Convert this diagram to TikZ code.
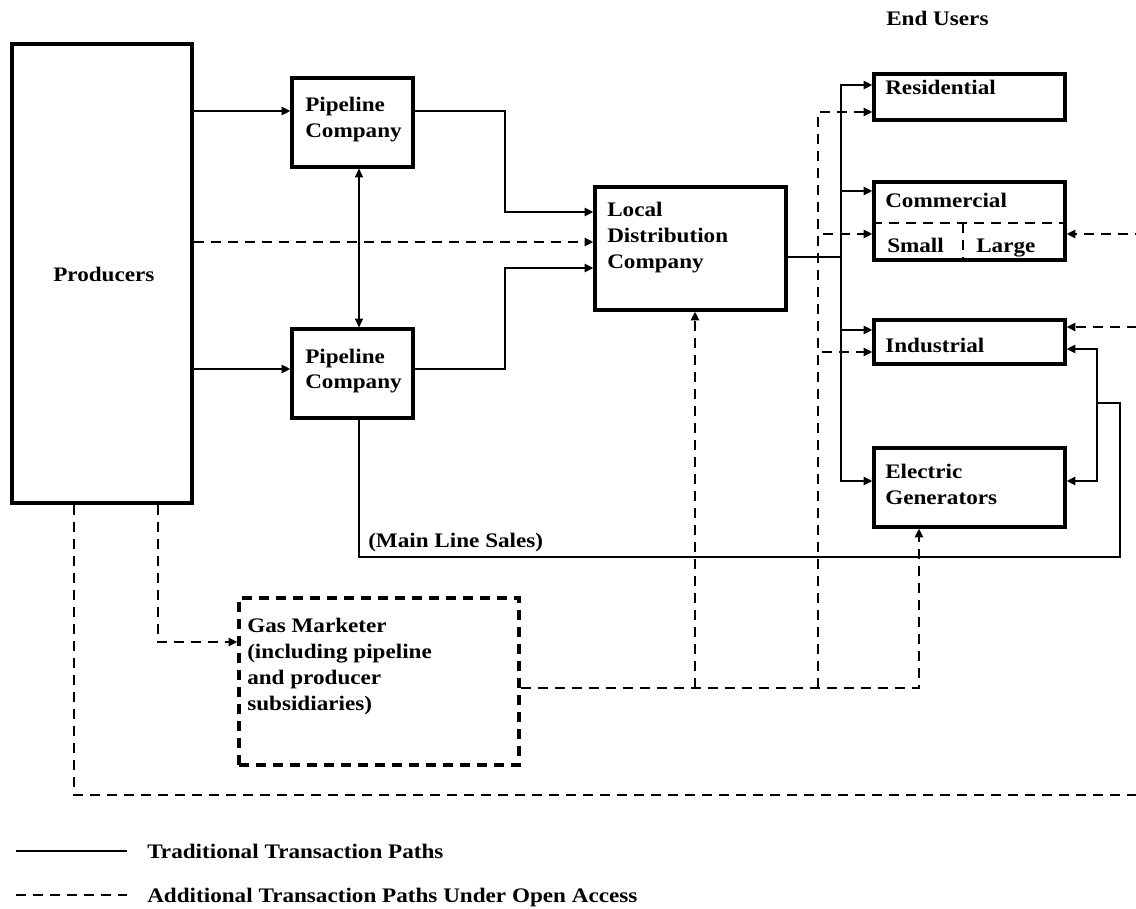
\documentclass[tikz,border=0pt]{standalone}
\usepackage{fontspec}
\newfontfamily\labelfont{Liberation Serif}[FakeStretch=1.12]
\usetikzlibrary{
    arrows.meta,
    calc
}

\tikzset{
    box/.style={draw, line width=2.4pt, inner sep=0pt},
    dbox/.style={box, dash pattern=on 7.5pt off 5.25pt},
    lbl/.style={font=\labelfont\bfseries\fontsize{15.5}{19.5}\selectfont, align=left, inner sep=0pt, anchor=base west},
    link/.style={line width=1.5pt},
    dlink/.style={line width=2pt, dash pattern=on 7.5pt off 5.25pt},
    >={Triangle[length=6.5pt,width=6pt]}
}

\begin{document}
\begin{tikzpicture}[x=0.75pt, y=-0.75pt]
    \useasboundingbox (0,0) rectangle (1136,909);
    \clip (0,0) rectangle (1136,909);

    % boxes
    \node[box, minimum width=135pt, minimum height=344.25pt] (prod) at (102,273.5) {};
    \node[box, minimum width=90.75pt, minimum height=66.75pt] (pipeA) at (352.5,122.5) {};
    \node[box, minimum width=90.75pt, minimum height=66.75pt] (pipeB) at (352.5,373.5) {};
    \node[box, minimum width=143.25pt, minimum height=92.25pt] (ldc) at (690.5,248.5) {};
    \node[box, minimum width=143.25pt, minimum height=34.5pt] (resi) at (969.5,97) {};
    \node[box, minimum width=143.25pt, minimum height=58.5pt] (comm) at (969.5,221) {};
    \node[box, minimum width=143.25pt, minimum height=33pt] (indu) at (969.5,342) {};
    \node[box, minimum width=143.25pt, minimum height=59.25pt] (elec) at (969.5,487.5) {};
    \node[dbox, minimum width=210pt, minimum height=125.25pt] (gasm) at (379,681.5) {};

    % texts (multi-line ones sit on their last line)
    \node[lbl] (enduser) at (886,26) {End Users};
    \node[lbl] (prodtxt) at (53,282) {Producers};
    \node[lbl] (pipeAtxt) at (305,138) {Pipeline\\Company};
    \node[lbl] (pipeBtxt) at (305,389) {Pipeline\\Company};
    \node[lbl] (ldctxt) at (607,269) {Local\\Distribution\\Company};
    \node[lbl] (resitxt) at (885,95) {Residential};
    \node[lbl] (commtxt) at (885,208) {Commercial};
    \node[lbl] (smalltxt) at (887,253) {Small};
    \node[lbl] (largetxt) at (976,253) {Large};
    \node[lbl] (indutxt) at (885,353) {Industrial};
    \node[lbl] (electxt) at (885,504) {Electric\\Generators};
    \node[lbl] (gasmtxt) at (247,710) {Gas Marketer\\(including pipeline\\and producer\\subsidiaries)};
    \node[lbl] (mlstxt) at (368,547) {(Main Line Sales)};

    % commercial split
    \draw[dlink] (comm.west |- 0,223) -- (comm.east |- 0,223);
    \draw[dlink] (963,223) -- (comm.south -| 963,0);

    % traditional paths
    \coordinate (bus) at (841,257);
    \coordinate (mls) at (1097,403);
    \draw[link, ->] (prod.east |- 0,111) -- (pipeA.west |- 0,111);
    \draw[link, ->] (prod.east |- 0,369) -- (pipeB.west |- 0,369);
    \draw[line width=1pt, <->] (pipeA.south -| 359,0) -- (pipeB.north -| 359,0);
    \draw[link, ->] (pipeA.east |- 0,111) -| (505,212) -- (ldc.west |- 0,212);
    \draw[link, ->] (pipeB.east |- 0,369) -| (505,268) -- (ldc.west |- 0,268);
    \draw[link] (ldc.east |- bus) -- (bus);
    \draw[link, ->] (bus) |- (resi.west |- 0,85);
    \draw[link, ->] (bus) |- (comm.west |- 0,191);
    \draw[link, ->] (bus) |- (indu.west |- 0,330);
    \draw[link, ->] (bus) |- (elec.west |- 0,481);
    \draw[link] (pipeB.south -| 359,0) |- (1120,557) |- (mls);
    \draw[link, ->] (mls) |- (indu.east |- 0,349);
    \draw[link, ->] (mls) |- (elec.east |- 0,481);

    % open access paths
    \coordinate (dbus) at (818,688);
    \coordinate (gmldc) at (695,688);
    \coordinate (rim) at (1145,795);
    \draw[dlink, ->] (prod.east |- 0,242) -- (ldc.west |- 0,242);
    \draw[dlink, ->] (prod.south -| 158,0) |- (gasm.west |- 0,642);
    \draw[dlink, ->] (gasm.east |- dbus) -| (elec.south -| 919,0);
    \draw[dlink, ->] (gmldc) -- (ldc.south -| gmldc);
    \draw[dlink, ->] (dbus) |- (resi.west |- 0,112);
    \draw[dlink, ->] (dbus) |- (comm.west |- 0,234);
    \draw[dlink, ->] (dbus) |- (indu.west |- 0,352);
    \draw[dlink] (prod.south -| 74,0) |- (rim);
    \draw[dlink, ->] (rim) |- (comm.east |- 0,234);
    \draw[dlink, ->] (rim) |- (indu.east |- 0,327);

    % legend
    \coordinate (legA) at (16,851);
    \coordinate (legB) at (16,895);
    \draw[link] (legA) -- ++(111,0);
    \draw[dlink] (legB) -- ++(111,0);
    \node[lbl] (legAtxt) at (147,858) {Traditional Transaction Paths};
    \node[lbl] (legBtxt) at (147,902) {Additional Transaction Paths Under Open Access};
\end{tikzpicture}
\end{document}
